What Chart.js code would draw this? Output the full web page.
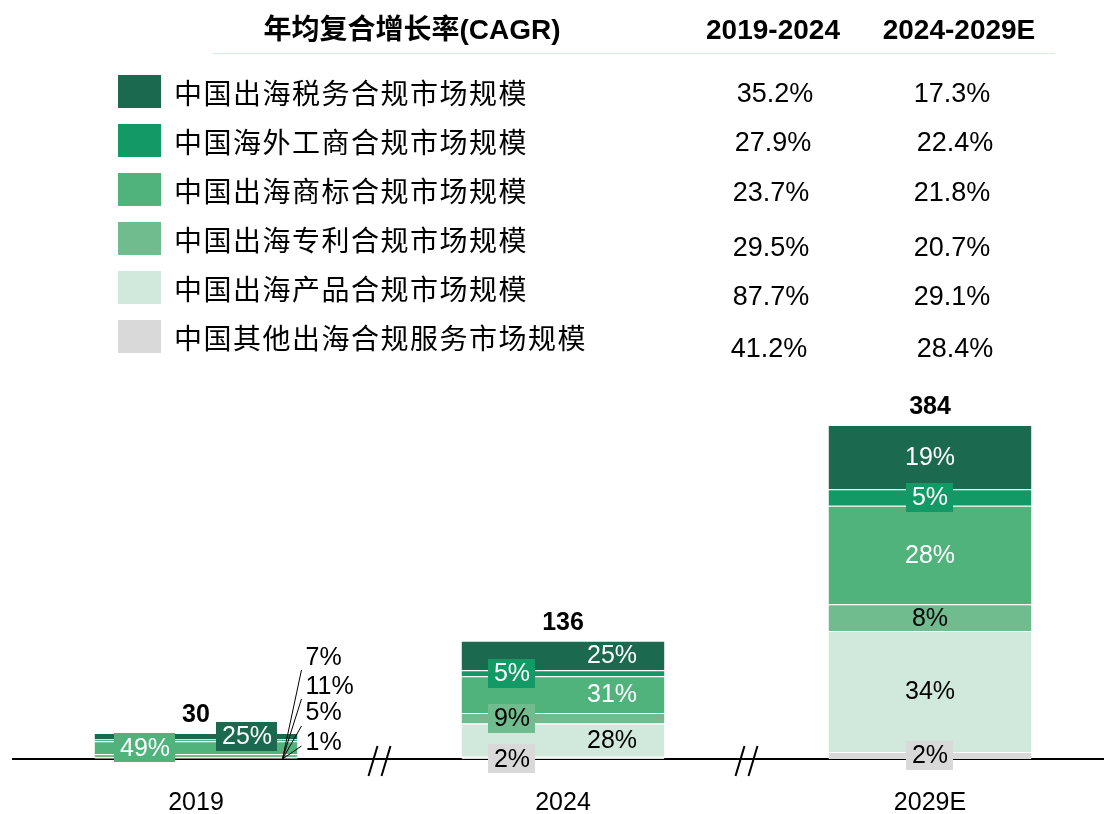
<!DOCTYPE html>
<html lang="zh-CN">
<head>
<meta charset="utf-8">
<title>中国出海合规市场规模</title>
<script src="https://cdn.jsdelivr.net/npm/chart.js@4.4.1/dist/chart.umd.min.js"></script>
<style>
    html, body { margin: 0; padding: 0; background: #fff; }
    #wrap { position: relative; width: 1104px; height: 814px; overflow: hidden; }
    /* plot is a little wider than the page so the last category sits where the original has it */
    #plot { position: absolute; left: 0; top: 0; width: 1114px; height: 814px; }
    .txt {
        position: absolute;
        white-space: nowrap;
        line-height: 1;
        color: #000;
        font-family: "Liberation Sans", Arial, "Noto Sans CJK SC", sans-serif;
    }
    .center { transform: translate(-50%, -50%); }
    .left { transform: translate(0, -50%); }
    .head { font-size: 28px; font-weight: bold; }
    .name { font-family: "Noto Sans CJK SC", sans-serif; font-size: 28px; letter-spacing: 1.5px; }
    .rate { font-size: 27px; }
    .swatch { position: absolute; width: 43px; height: 33px; }
    .rule { position: absolute; left: 213px; top: 53px; width: 842px; height: 1px; background: #d3eadd; }
</style>
</head>
<body>
<div id="wrap">
    <div id="plot"><canvas id="chart"></canvas></div>
    <div id="table"></div>
</div>

<script>
// categories and series (legend order, top of stack first)
const categories = ["2019", "2024", "2029E"];
const seriesNames = [
    "中国出海税务合规市场规模",
    "中国海外工商合规市场规模",
    "中国出海商标合规市场规模",
    "中国出海专利合规市场规模",
    "中国出海产品合规市场规模",
    "中国其他出海合规服务市场规模"
];

// market size per category
const taxValues = [7.5, 34.0, 74];
const businessValues = [2.1, 6.8, 19];
const trademarkValues = [14.7, 42.2, 113];
const patentValues = [3.3, 12.2, 31];
const productValues = [1.6, 38.1, 139];
const otherValues = [0.8, 2.7, 8];
const totalLabels = ["30", "136", "384"];

// share labels as printed on the bars
const taxShares = ["25%", "25%", "19%"];
const businessShares = ["7%", "5%", "5%"];
const trademarkShares = ["49%", "31%", "28%"];
const patentShares = ["11%", "9%", "8%"];
const productShares = ["5%", "28%", "34%"];
const otherShares = ["1%", "2%", "2%"];

// CAGR table
const cagrHeaders = ["年均复合增长率(CAGR)", "2019-2024", "2024-2029E"];
const cagr2019to2024 = ["35.2%", "27.9%", "23.7%", "29.5%", "87.7%", "41.2%"];
const cagr2024to2029 = ["17.3%", "22.4%", "21.8%", "20.7%", "29.1%", "28.4%"];

const seriesValues = [taxValues, businessValues, trademarkValues, patentValues, productValues, otherValues];
const seriesShares = [taxShares, businessShares, trademarkShares, patentShares, productShares, otherShares];
const seriesColors = ["#1b6a4f", "#139966", "#4fb37b", "#70bc8f", "#d1e9dc", "#d9d9d9"];

// where each share label sits: per category, per series
const W = "#fff", K = "#000";
const placement = [
    [
        { dx: 51, box: true, color: W },
        { out: 0 },
        { dx: -51, box: true, color: W },
        { out: 1 },
        { out: 2 },
        { out: 3 }
    ],
    [
        { dx: 49, color: W },
        { dx: -51, box: true, color: W },
        { dx: 49, color: W },
        { dx: -51, box: true, color: K },
        { dx: 49, color: K },
        { dx: -51, box: true, color: K, dy: 1 }
    ],
    [
        { dx: 0, color: W },
        { dx: 0, box: true, color: W },
        { dx: 0, color: W },
        { dx: 0, color: K },
        { dx: 0, color: K },
        { dx: 0, box: true, color: K }
    ]
];
const outsideRowY = [-101, -72, -46, -16];
const leaderEndDy = [12, 12, 13, 3];

// ---- table above the chart ----
const table = document.getElementById("table");

function addText(text, cls, x, y) {
    const el = document.createElement("div");
    el.className = "txt " + cls;
    el.style.left = x + "px";
    el.style.top = y + "px";
    el.textContent = text;
    table.appendChild(el);
    return el;
}

addText(cagrHeaders[0], "head center", 412, 30);
addText(cagrHeaders[1], "head center", 773, 30);
addText(cagrHeaders[2], "head center", 959, 30);
const rule = document.createElement("div");
rule.className = "rule";
table.appendChild(rule);

const rowY = [91, 140, 189, 238, 287, 336];
const rateY = [93, 142, 192, 247, 296, 348];
const rateX1 = [775, 773, 771, 771, 771, 769];
const rateX2 = [952, 955, 952, 952, 952, 955];

seriesNames.forEach((name, i) => {
    const sw = document.createElement("div");
    sw.className = "swatch";
    sw.style.left = "118px";
    sw.style.top = (rowY[i] - 16) + "px";
    sw.style.background = seriesColors[i];
    table.appendChild(sw);
    addText(name, "name left", 174, rowY[i] + 1);
    addText(cagr2019to2024[i], "rate center", rateX1[i], rateY[i]);
    addText(cagr2024to2029[i], "rate center", rateX2[i], rateY[i]);
});

// ---- chart ----
const FONT = '"Liberation Sans", Arial, sans-serif';

// stack bottom-up: last series first
const datasets = seriesNames.map((name, i) => ({
    label: name,
    seriesIndex: i,
    data: seriesValues[i],
    backgroundColor: seriesColors[i],
    borderColor: "#fff",
    borderWidth: { top: 1, right: 0, bottom: 0, left: 0 },
    borderSkipped: "start",
    categoryPercentage: 1,
    barPercentage: 0.553
})).reverse();

const shareLabels = {
    id: "shareLabels",
    afterDatasetsDraw(chart) {
        const ctx = chart.ctx;
        const base = chart.scales.y.getPixelForValue(0);
        ctx.save();
        ctx.font = "25px " + FONT;
        ctx.textBaseline = "middle";
        ctx.textAlign = "center";

        chart.data.datasets.forEach((ds, di) => {
            const s = ds.seriesIndex;
            chart.getDatasetMeta(di).data.forEach((bar, ci) => {
                const p = placement[ci][s];
                const text = seriesShares[s][ci];
                if (p.out !== undefined) {
                    const right = bar.x + bar.width / 2;
                    const tx = right + 8;
                    const ty = base + outsideRowY[p.out];
                    ctx.strokeStyle = "#000";
                    ctx.lineWidth = 1;
                    ctx.beginPath();
                    ctx.moveTo(right - 15, base);
                    ctx.lineTo(tx - 4, ty + leaderEndDy[p.out]);
                    ctx.stroke();
                    ctx.fillStyle = "#000";
                    ctx.textAlign = "left";
                    ctx.fillText(text, tx, ty);
                    ctx.textAlign = "center";
                    return;
                }
                const x = bar.x + p.dx;
                const y = (bar.y + bar.base) / 2 + (p.dy || 0);
                if (p.box) {
                    const w = ctx.measureText(text).width + 11;
                    ctx.fillStyle = seriesColors[s];
                    ctx.fillRect(Math.round(x - w / 2), Math.round(y - 14.5), Math.round(w), 29);
                }
                ctx.fillStyle = p.color;
                ctx.fillText(text, x, y + 1);
            });
        });

        // totals above each bar
        const topMeta = chart.getDatasetMeta(chart.data.datasets.length - 1);
        ctx.font = "bold 25px " + FONT;
        ctx.fillStyle = "#000";
        topMeta.data.forEach((bar, ci) => {
            ctx.fillText(totalLabels[ci], bar.x, bar.y - 18);
        });
        ctx.restore();
    }
};

// "//" marks on the axis between categories
const axisBreaks = {
    id: "axisBreaks",
    afterDraw(chart) {
        const ctx = chart.ctx;
        const xs = chart.scales.x;
        const base = chart.scales.y.getPixelForValue(0);
        ctx.save();
        ctx.strokeStyle = "#000";
        ctx.lineWidth = 2;
        for (let i = 0; i < categories.length - 1; i++) {
            const xm = (xs.getPixelForValue(i) + xs.getPixelForValue(i + 1)) / 2;
            [-6.5, 6.5].forEach(off => {
                ctx.beginPath();
                ctx.moveTo(xm + off + 4.5, base - 13);
                ctx.lineTo(xm + off - 4.5, base + 17);
                ctx.stroke();
            });
        }
        ctx.restore();
    }
};

new Chart(document.getElementById("chart").getContext("2d"), {
    type: "bar",
    data: { labels: categories, datasets: datasets },
    options: {
        responsive: true,
        maintainAspectRatio: false,
        animation: false,
        layout: { padding: { top: 411, left: 12.5, right: 0.5, bottom: 0 } },
        plugins: {
            legend: { display: false },
            tooltip: { enabled: false }
        },
        scales: {
            x: {
                stacked: true,
                grid: { display: false, drawTicks: false },
                border: { display: true, color: "#000", width: 2 },
                ticks: { color: "#000", font: { family: FONT, size: 25 }, padding: 29 },
                afterFit(scale) { scale.height = 55; }
            },
            y: {
                stacked: true,
                display: false,
                min: 0,
                max: 400
            }
        }
    },
    plugins: [shareLabels, axisBreaks]
});
</script>
</body>
</html>
